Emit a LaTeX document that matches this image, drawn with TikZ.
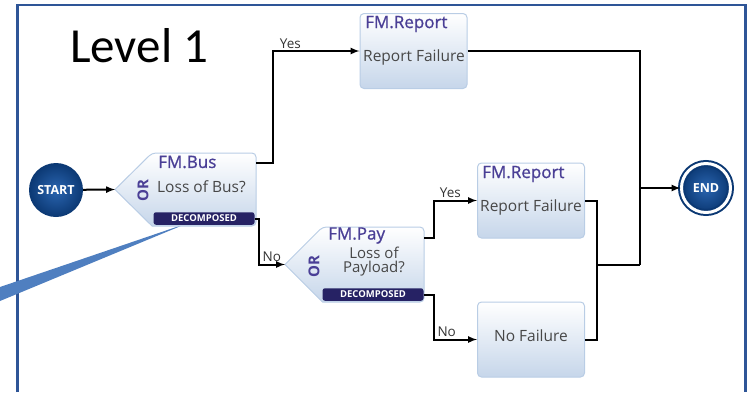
\documentclass[tikz,border=0pt]{standalone}
\usepackage{fontspec}
\setmainfont{Open Sans}
\newfontfamily\levelfont{Carlito}
\newfontfamily\titlefont[FakeBold=1]{Open Sans}

\definecolor{framecol}{HTML}{2E5597}
\definecolor{calloutcol}{HTML}{4F7FC0}
\definecolor{titlecol}{HTML}{4A3F96}
\definecolor{textcol}{HTML}{474747}
\definecolor{boxline}{HTML}{B9CDE5}
\definecolor{boxblue}{HTML}{C6D6EA}
\definecolor{decompcol}{HTML}{262264}
\definecolor{termdark}{HTML}{0B3873}
\definecolor{termlight}{HTML}{2A65B0}

\begin{document}
\begin{tikzpicture}[x=1pt,y=-1pt,
    box/.style={rectangle, rounded corners=4pt, draw=boxline, line width=1pt,
        top color=white, bottom color=boxblue, minimum width=107, minimum height=75, inner sep=0pt},
    gatebox/.style={rectangle, minimum width=104, minimum height=73, inner sep=0pt, outer sep=0pt},
    gateshape/.style={draw=boxline, line width=1pt, top color=white, bottom color=boxblue},
    decomp/.style={rectangle, rounded corners=2.5pt, fill=decompcol, text=white,
        font=\bfseries\fontsize{9.5}{9.5}\selectfont, minimum width=101, minimum height=12.5, inner sep=0pt},
    title/.style={anchor=west, inner sep=0pt, text=titlecol, font=\titlefont\fontsize{17}{18}\selectfont},
    txt/.style={inner sep=0pt, text=textcol, font=\fontsize{15.5}{12}\selectfont},
    ortext/.style={inner sep=0pt, rotate=90, text=titlecol, font=\bfseries\fontsize{15}{15}\selectfont},
    lbl/.style={inner sep=1.5pt, text=black!80, font=\fontsize{13.5}{14}\selectfont},
    term/.style={circle, inner sep=0pt, inner color=termlight, outer color=termdark, text=white,
        font=\bfseries\fontsize{12.5}{14}\selectfont},
    flow/.style={->, >=latex, line width=2pt},
    line/.style={line width=2pt}]
    \useasboundingbox (0,0) rectangle (748,392);

    % slide frame and callout
    \draw[framecol, line width=2.5pt] (17.5,392) -- (17.5,5) -- (745.5,5) -- (745.5,392);
    \coordinate (calltip) at (188,223);
    \fill[calloutcol] (0,287) -- (calltip) -- (0,301) -- cycle;
    \node[anchor=base west, inner sep=0pt, font=\levelfont\fontsize{49}{50}\selectfont] (level) at (70,62) {Level 1};

    % terminals
    \node[term, minimum size=54] (start) at (56,190) {START};
    \node[term, minimum size=49, draw=termdark, line width=2pt, double=white, double distance=3pt] (end) at (706,188) {END};

    % gates
    \node[gatebox] (bus) at (204,189.5) {};
    \coordinate (busin) at ([xshift=-37pt]bus.west);
    \path[gateshape] (bus.north west) -- (busin) -- (bus.south west)
        [rounded corners=4pt] -- (bus.south east) -- (bus.north east) -- cycle;
    \node[decomp] (busdec) at (204,218.5) {DECOMPOSED};
    \node[title] (bustitle) at (158,162) {FM.Bus};
    \node[txt, anchor=west] (busq) at (157,187) {Loss of Bus?};
    \node[ortext] (busor) at (143,191) {OR};

    \node[gatebox, minimum width=101.5, minimum height=75] (pay) at (373.25,264.5) {};
    \coordinate (payin) at ([xshift=-37.5pt]pay.west);
    \path[gateshape] (pay.north west) -- (payin) -- (pay.south west)
        [rounded corners=4pt] -- (pay.south east) -- (pay.north east) -- cycle;
    \node[decomp] (paydec) at (373,294.5) {DECOMPOSED};
    \node[title] (paytitle) at (328,235.5) {FM.Pay};
    \node[txt, align=center, font=\fontsize{15}{14}\selectfont] (payq) at (374,262) {Loss of\\Payload?};
    \node[ortext] (payor) at (314,267) {OR};

    % events
    \node[box] (rep1) at (413.5,51) {};
    \node[title] (rep1title) at (365,24) {FM.Report};
    \node[txt] (rep1txt) at (414,57) {Report Failure};

    \node[box] (rep2) at (531,200.5) {};
    \node[title] (rep2title) at (482,174) {FM.Report};
    \node[txt] (rep2txt) at (531,207) {Report Failure};

    \node[box] (nofail) at (531,339.5) {};
    \node[txt] (nofailtxt) at (531,336) {No Failure};

    % connectors
    \coordinate (join) at (597,265);
    \coordinate (merge) at (640,265);
    \coordinate (split) at (640,188);

    \draw[flow] (start) -- (busin);
    \draw[flow] ([yshift=26.5pt]bus.east) -- ++(17,0) |- (rep1) node[lbl, pos=0.6, above] {Yes};
    \draw[flow] (busdec.east) -- ++(4,0) |- (payin) node[lbl, pos=0.75, above] {No};
    \draw[flow] ([yshift=26.5pt]pay.east) -- ++(10,0) |- (rep2) node[lbl, pos=0.69, above] {Yes};
    \draw[flow] (paydec.east) -- ++(10,0) |- (nofail) node[lbl, pos=0.65, above] {No};
    \draw[line] (rep2) -| (join);
    \draw[line] (nofail) -| (join);
    \draw[line] (join) -- (merge);
    \draw[line] (rep1) -| (merge);
    \draw[flow] (split) -- (end);
\end{tikzpicture}
\end{document}
